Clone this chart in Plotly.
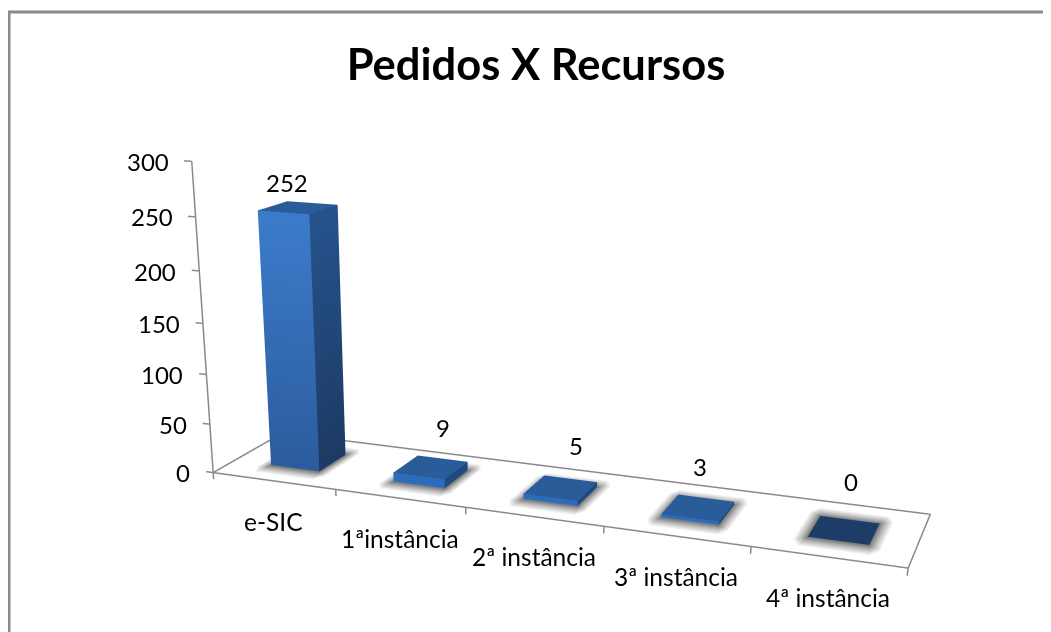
import plotly.graph_objects as go

categories = ["e-SIC", "1ªinstância", "2ª instância", "3ª instância", "4ª instância"]
values = [252, 9, 5, 3, 0]
z_ticks = [0, 50, 100, 150, 200, 250, 300]
label_dx = [-45, -15, -8, -16, -6]
label_dy = [14, 19, 21, 18, 24]

# The page body has an 8 px margin. The scene is taller than the window because
# the reference's wide, off-centre perspective needs a long focal length.
OFF = 8
FW, FH = 1043, 1320
XR, YR, ZR = [-0.3, 5.3], [-0.2, 1.2], [-20, 305]
SCALE_X, SCALE_Y, SCALE_Z = 0.2, 0.216243, 0.001464
EYE = dict(x=0.67970, y=-2.03807, z=0.52540)
CENTER = dict(x=0.08711, y=-0.54588, z=-0.22721)
UP = dict(x=-0.06743, y=0.15834, z=1)
VIEW_L, VIEW_R, VIEW_T, VIEW_B = 8.0, 940.0, 8.0, 1323.4
BAR_X = (0.306, 0.707)
BAR_Y = (0.298, 0.704)


def px(x):
    return (x - OFF) / FW


def py(y):
    return 1 - (y - OFF) / FH


aspect = dict(x=SCALE_X * (XR[1] - XR[0]), y=SCALE_Y * (YR[1] - YR[0]), z=SCALE_Z * (ZR[1] - ZR[0]))
GREY = "#8a8a8a"
FONT = "Lato"
LIGHT = dict(ambient=1, diffuse=0, specular=0, fresnel=0, roughness=1)

fig = go.Figure()

# floor outline, value axis, tick marks
lx = [0, 5, 5, 0, 0, None, 0, 0]
ly = [0, 0, 1, 1, 0, None, 0, 0]
lz = [0, 0, 0, 0, 0, None, 0, 300]
for z in z_ticks:
    lx += [None, 0, -0.06]
    ly += [None, 0, 0]
    lz += [None, z, z]
for k in range(len(categories) + 1):
    lx += [None, k, k]
    ly += [None, 0, 0]
    lz += [None, 0, -7]
fig.add_trace(go.Scatter3d(x=lx, y=ly, z=lz, mode="lines", line=dict(color=GREY, width=3),
                           showlegend=False, hoverinfo="skip"))

x0, x1 = BAR_X
d0, d1 = BAR_Y
mx, my = 0.085, 0.17


def ring(i, m):
    a, b = i + x0 - mx * m, i + x1 + mx * m
    c, d = d0 - my * m, d1 + my * m
    e, g = 0.6 * mx * m, 0.6 * my * m
    return [(a + e, c), (b - e, c), (b, c + g), (b, d - g), (b - e, d), (a + e, d), (a, d - g), (a, c + g)]


for i, v in enumerate(values):
    # soft shadow on the floor
    pts = ring(i, 0) + ring(i, 0.45) + ring(i, 1)
    cs = ["#7a7a7a"] * 8 + ["#bcbcbc"] * 8 + ["#ffffff"] * 8
    I, J, K = [0, 0, 0, 0], [1, 3, 5, 6], [3, 5, 6, 7]
    for rn in range(2):
        for s in range(8):
            A = rn * 8 + s
            B = rn * 8 + (s + 1) % 8
            C, D = A + 8, B + 8
            I += [A, B]
            J += [B, D]
            K += [C, C]
    fig.add_trace(go.Mesh3d(x=[a for a, _ in pts], y=[b for _, b in pts], z=[-0.5] * 24,
                            i=I, j=J, k=K, vertexcolor=cs, lighting=LIGHT, showscale=False, hoverinfo="skip"))

    # bar: front, right and top faces
    if v >= 50:
        front = ["#2b5c9c", "#2b5c9c", "#3c7bcb", "#3c7bcb"]
        side = ["#1c3a63", "#1c3a63", "#26528c", "#26528c"]
        top = "#2a5c9a"
    elif v > 0:
        front = ["#2c6cbc"] * 4
        side = ["#1f4a80"] * 4
        top = "#2a5c9a"
    else:
        front = ["#1e3c68"] * 4
        side = ["#1e3c68"] * 4
        top = "#1e3c68"
    xs = [i + x0, i + x1, i + x1, i + x0, i + x1, i + x1, i + x1, i + x1, i + x0, i + x1, i + x1, i + x0]
    ys = [d0, d0, d0, d0, d0, d1, d1, d0, d0, d0, d1, d1]
    zs = [0, 0, v, v, 0, 0, v, v, v, v, v, v]
    fig.add_trace(go.Mesh3d(x=xs, y=ys, z=zs, i=[0, 0, 4, 4, 8, 8], j=[1, 2, 5, 6, 9, 10], k=[2, 3, 6, 7, 10, 11],
                            vertexcolor=front + side + [top] * 4, lighting=LIGHT, showscale=False, hoverinfo="skip"))

ann = []
for z in z_ticks:
    ann.append(dict(x=0, y=0, z=z, text=str(z), showarrow=False, xanchor="right", xshift=-21,
                    font=dict(family=FONT, size=24, color="black")))
for i, name in enumerate(categories):
    ann.append(dict(x=i + 0.5, y=0, z=0, text=name, showarrow=False, yshift=-40,
                    font=dict(family=FONT, size=24.5, color="black")))
for i, v in enumerate(values):
    ann.append(dict(x=i + 0.5, y=1, z=v, text=str(v), showarrow=False, xshift=label_dx[i], yshift=label_dy[i],
                    font=dict(family=FONT, size=24, color="black")))

hidden = dict(visible=False, showgrid=False, showticklabels=False, showspikes=False, showbackground=False, zeroline=False)
fig.update_layout(
    width=FW, height=FH, margin=dict(l=0, r=0, t=0, b=0), paper_bgcolor="white", showlegend=False,
    scene=dict(
        domain=dict(x=[px(VIEW_L), px(VIEW_R)], y=[py(VIEW_B), py(VIEW_T)]),
        xaxis=dict(range=XR, **hidden), yaxis=dict(range=YR, **hidden), zaxis=dict(range=ZR, **hidden),
        aspectmode="manual", aspectratio=aspect, annotations=ann,
        camera=dict(eye=EYE, center=CENTER, up=UP),
    ),
    title=dict(text="<b>Pedidos X Recursos</b>", x=px(536), xanchor="center", y=py(65), yanchor="middle",
               font=dict(family=FONT, size=43.5, color="black")),
    shapes=[
        dict(type="line", xref="paper", yref="paper", x0=px(9), x1=px(9), y0=0, y1=py(12), line=dict(color=GREY, width=3)),
        dict(type="line", xref="paper", yref="paper", x0=0, x1=1, y0=py(12), y1=py(12), line=dict(color=GREY, width=3)),
    ],
)
fig.write_html("out.html")
